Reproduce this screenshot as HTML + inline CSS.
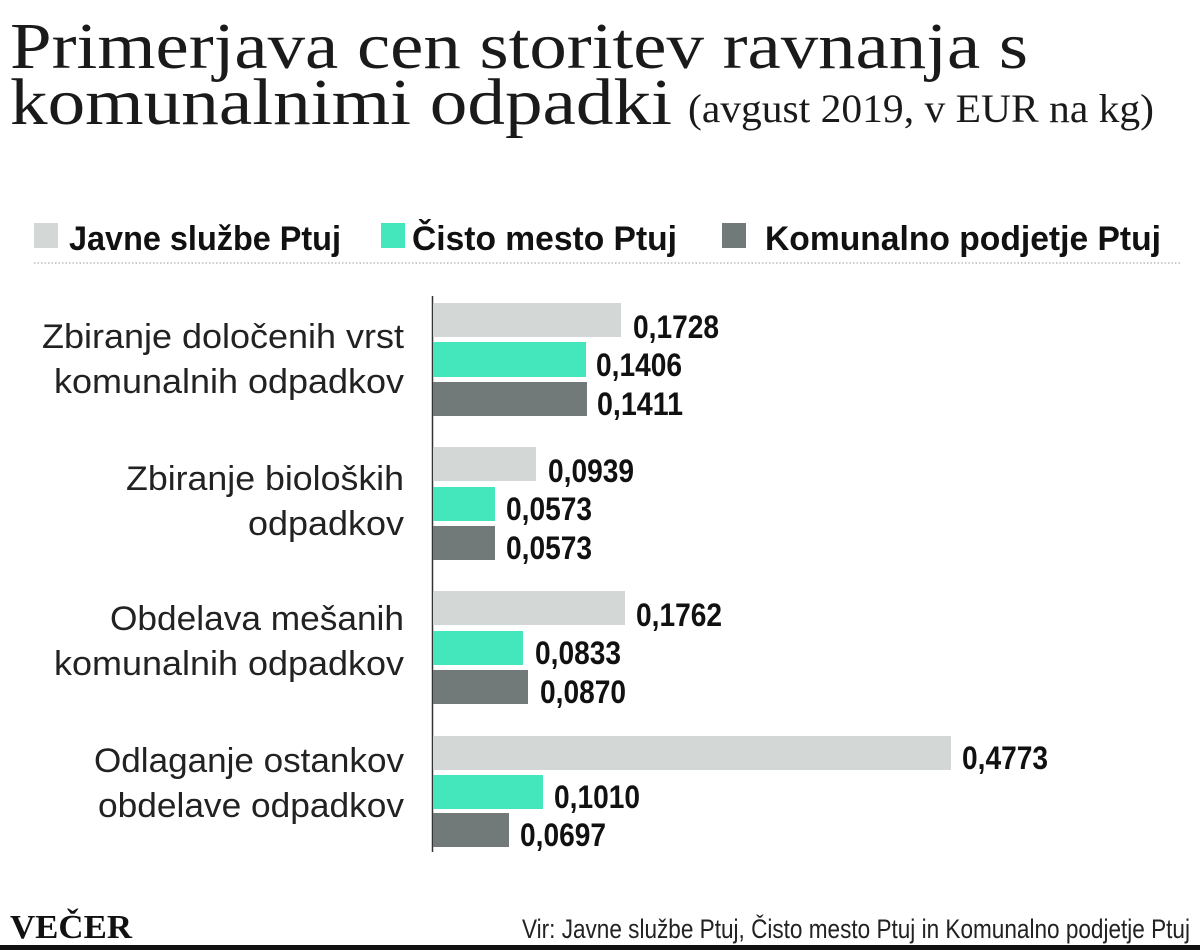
<!DOCTYPE html>
<html><head><meta charset="utf-8"><style>body{margin:0;background:#fff}svg{display:block}</style></head><body>
<svg width="1200" height="950" xmlns="http://www.w3.org/2000/svg">
<rect width="1200" height="950" fill="#fff"/>
<g font-family="Liberation Serif, serif" fill="#1a1a1a">
<text x="10" y="68" font-size="66" textLength="1018" lengthAdjust="spacingAndGlyphs">Primerjava cen storitev ravnanja s</text>
<text x="10" y="124" font-size="66" textLength="662" lengthAdjust="spacingAndGlyphs">komunalnimi odpadki</text>
<text x="688" y="122" font-size="40" textLength="466" lengthAdjust="spacingAndGlyphs">(avgust 2019, v EUR na kg)</text>
</g>
<g font-family="Liberation Sans, sans-serif" font-weight="bold" font-size="34" fill="#111">
<rect x="34" y="223" width="24" height="25" fill="#d3d8d7"/>
<text x="69" y="250" textLength="272" lengthAdjust="spacingAndGlyphs">Javne službe Ptuj</text>
<rect x="381" y="223" width="24" height="25" fill="#44e6bc"/>
<text x="412" y="250" textLength="265" lengthAdjust="spacingAndGlyphs">Čisto mesto Ptuj</text>
<rect x="722" y="223" width="24" height="25" fill="#727a79"/>
<text x="765" y="250" textLength="396" lengthAdjust="spacingAndGlyphs">Komunalno podjetje Ptuj</text>
</g>
<line x1="34" y1="263" x2="1180" y2="263" stroke="#bbb" stroke-width="1.5" stroke-dasharray="1.5 2"/>
<line x1="432.5" y1="296" x2="432.5" y2="852" stroke="#333" stroke-width="1.5"/>
<g font-family="Liberation Sans, sans-serif" font-size="34" fill="#222" text-anchor="end">
<text x="404" y="348" textLength="362" lengthAdjust="spacingAndGlyphs">Zbiranje določenih vrst</text>
<text x="404" y="393" textLength="350" lengthAdjust="spacingAndGlyphs">komunalnih odpadkov</text>
<text x="404" y="490" textLength="278" lengthAdjust="spacingAndGlyphs">Zbiranje bioloških</text>
<text x="404" y="535" textLength="156" lengthAdjust="spacingAndGlyphs">odpadkov</text>
<text x="404" y="630" textLength="294" lengthAdjust="spacingAndGlyphs">Obdelava mešanih</text>
<text x="404" y="675" textLength="350" lengthAdjust="spacingAndGlyphs">komunalnih odpadkov</text>
<text x="404" y="772" textLength="310" lengthAdjust="spacingAndGlyphs">Odlaganje ostankov</text>
<text x="404" y="817" textLength="306" lengthAdjust="spacingAndGlyphs">obdelave odpadkov</text>
</g>
<g>
<rect x="433" y="303" width="188" height="34" fill="#d3d8d7"/>
<rect x="433" y="342" width="153" height="35" fill="#44e6bc"/>
<rect x="433" y="382" width="154" height="34" fill="#727a79"/>
<rect x="433" y="447" width="103" height="34" fill="#d3d8d7"/>
<rect x="433" y="487" width="62" height="34" fill="#44e6bc"/>
<rect x="433" y="526" width="62" height="34" fill="#727a79"/>
<rect x="433" y="591" width="192" height="34" fill="#d3d8d7"/>
<rect x="433" y="631" width="90" height="34" fill="#44e6bc"/>
<rect x="433" y="670" width="95" height="34" fill="#727a79"/>
<rect x="433" y="736" width="518" height="34" fill="#d3d8d7"/>
<rect x="433" y="775" width="110" height="34" fill="#44e6bc"/>
<rect x="433" y="813" width="76" height="34" fill="#727a79"/>
</g>
<g font-family="Liberation Sans, sans-serif" font-weight="bold" font-size="32" fill="#111">
<text x="633" y="338" textLength="86" lengthAdjust="spacingAndGlyphs">0,1728</text>
<text x="596" y="376" textLength="86" lengthAdjust="spacingAndGlyphs">0,1406</text>
<text x="597" y="415" textLength="86" lengthAdjust="spacingAndGlyphs">0,1411</text>
<text x="548" y="482" textLength="86" lengthAdjust="spacingAndGlyphs">0,0939</text>
<text x="506" y="520" textLength="86" lengthAdjust="spacingAndGlyphs">0,0573</text>
<text x="506" y="559" textLength="86" lengthAdjust="spacingAndGlyphs">0,0573</text>
<text x="636" y="626" textLength="86" lengthAdjust="spacingAndGlyphs">0,1762</text>
<text x="535" y="664" textLength="86" lengthAdjust="spacingAndGlyphs">0,0833</text>
<text x="540" y="703" textLength="86" lengthAdjust="spacingAndGlyphs">0,0870</text>
<text x="962" y="769" textLength="86" lengthAdjust="spacingAndGlyphs">0,4773</text>
<text x="554" y="808" textLength="86" lengthAdjust="spacingAndGlyphs">0,1010</text>
<text x="520" y="846" textLength="86" lengthAdjust="spacingAndGlyphs">0,0697</text>
</g>
<text x="10" y="938" font-family="Liberation Serif, serif" font-weight="bold" font-size="34" fill="#111" textLength="122" lengthAdjust="spacingAndGlyphs">VEČER</text>
<text x="1190" y="938" text-anchor="end" font-family="Liberation Sans, sans-serif" font-size="27" fill="#222" textLength="668" lengthAdjust="spacingAndGlyphs">Vir: Javne službe Ptuj, Čisto mesto Ptuj in Komunalno podjetje Ptuj</text>
<rect x="0" y="945" width="1200" height="5" fill="#111"/>
</svg>
</body></html>
